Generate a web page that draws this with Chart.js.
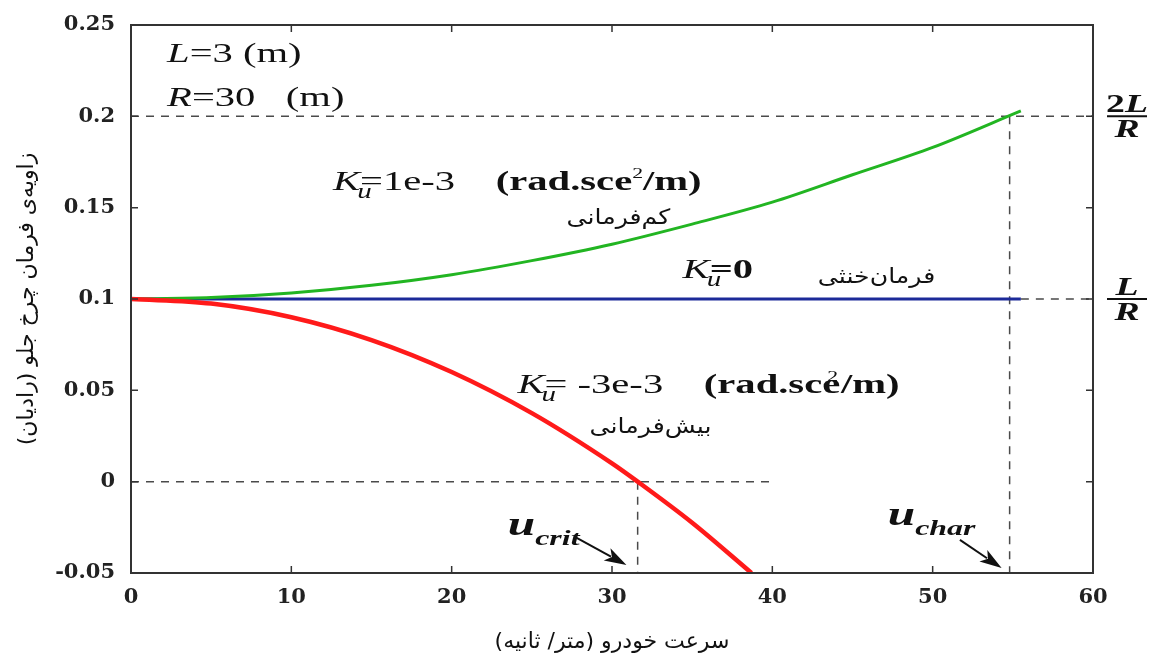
<!DOCTYPE html>
<html>
<head>
<meta charset="utf-8">
<script src="https://cdn.jsdelivr.net/npm/chart.js"></script>
<style>
    html, body { margin: 0; padding: 0; background: #ffffff; }
    .chart-box { width: 1155px; height: 661px; position: relative; }
</style>
</head>
<body>
<div class="chart-box"><canvas id="steerChart"></canvas></div>
<script>
// speed (m/s) and front wheel steer angle (rad)
const speedUnder = [0, 5, 10, 15, 20, 25, 30, 35, 40, 45, 50, 55.5];
const angleUnder = [0.1, 0.1008, 0.1033, 0.1075, 0.1133, 0.121, 0.13, 0.141, 0.153, 0.168, 0.183, 0.203];

const speedNeutral = [0, 55.5];
const angleNeutral = [0.1, 0.1];

const speedOver = [0, 5, 10, 15, 20, 25, 30, 31.6, 35, 38.7];
const angleOver = [0.1, 0.0975, 0.09, 0.0775, 0.06, 0.0375, 0.01, 0, -0.0225, -0.05];

// dashed helper lines
const levelValues = [0.2, 0.1, 0];
const levelSpans = [[0, 60], [55.5, 60], [0, 40]];
const uCrit = 31.6;
const uChar = 54.8;
const uCritSpan = [0, -0.05];
const uCharSpan = [0.2, -0.05];

const xTicks = [0, 10, 20, 30, 40, 50, 60];
const yTicks = [-0.05, 0, 0.05, 0.1, 0.15, 0.2, 0.25];

const pts = (xs, ys) => xs.map((x, i) => ({ x: x, y: ys[i] }));

const dashStyle = {
    borderColor: '#4a4a4a',
    borderWidth: 1.5,
    borderDash: [8, 7],
    pointRadius: 0,
    showLine: true,
    fill: false
};

const datasets = [
    { data: pts(speedOver, angleOver), borderColor: '#ff1a1a', borderWidth: 4.5, pointRadius: 0, showLine: true, cubicInterpolationMode: 'monotone' },
    { data: pts(speedUnder, angleUnder), borderColor: '#22b522', borderWidth: 3, pointRadius: 0, showLine: true, cubicInterpolationMode: 'monotone' },
    { data: pts(speedNeutral, angleNeutral), borderColor: '#1c2a99', borderWidth: 3, pointRadius: 0, showLine: true }
];
levelValues.forEach((v, i) => {
    datasets.push(Object.assign({ data: pts(levelSpans[i], [v, v]) }, dashStyle));
});
datasets.push(Object.assign({ data: pts([uCrit, uCrit], uCritSpan) }, dashStyle));
datasets.push(Object.assign({ data: pts([uChar, uChar], uCharSpan) }, dashStyle));

const SX = 1.45; // the source figure is stretched sideways
const serif = 'Liberation Serif';
const persian = 'DejaVu Sans';

function drawRuns(ctx, x0, y0, runs) {
    ctx.save();
    ctx.translate(x0, y0);
    ctx.scale(SX, 1);
    ctx.textBaseline = 'alphabetic';
    ctx.textAlign = 'left';
    ctx.fillStyle = '#111';
    let cx = 0;
    runs.forEach(r => {
        ctx.font = r.f;
        cx += (r.dx || 0);
        ctx.fillText(r.t, cx, r.dy || 0);
        cx += ctx.measureText(r.t).width;
    });
    ctx.restore();
}

function drawPersian(ctx, text, x, y, size) {
    ctx.save();
    ctx.translate(x, y);
    ctx.scale(1.2, 1);
    ctx.font = size + 'px "' + persian + '"';
    ctx.direction = 'rtl';
    ctx.textAlign = 'center';
    ctx.textBaseline = 'middle';
    ctx.fillStyle = '#111';
    ctx.fillText(text, 0, 0);
    ctx.restore();
}

function drawArrow(ctx, x1, y1, x2, y2) {
    const ang = Math.atan2(y2 - y1, x2 - x1);
    const head = 22, half = 7;
    ctx.save();
    ctx.strokeStyle = '#111';
    ctx.fillStyle = '#111';
    ctx.lineWidth = 2;
    ctx.beginPath();
    ctx.moveTo(x1, y1);
    ctx.lineTo(x2 - Math.cos(ang) * head * 0.8, y2 - Math.sin(ang) * head * 0.8);
    ctx.stroke();
    ctx.translate(x2, y2);
    ctx.rotate(ang);
    ctx.beginPath();
    ctx.moveTo(0, 0);
    ctx.lineTo(-head, -half);
    ctx.lineTo(-head * 0.75, 0);
    ctx.lineTo(-head, half);
    ctx.closePath();
    ctx.fill();
    ctx.restore();
}

function drawFraction(ctx, cx, cy, top) {
    ctx.save();
    ctx.fillStyle = '#111';
    ctx.strokeStyle = '#111';
    ctx.textBaseline = 'alphabetic';
    // numerator
    ctx.save();
    ctx.translate(cx, cy - 4);
    ctx.scale(SX, 1);
    ctx.font = 'bold 26px "' + serif + '"';
    const w1 = ctx.measureText(top[0]).width;
    ctx.font = 'bold italic 26px "' + serif + '"';
    const w2 = ctx.measureText(top[1]).width;
    let sx = -(w1 + w2) / 2;
    ctx.font = 'bold 26px "' + serif + '"';
    ctx.fillText(top[0], sx, 0);
    ctx.font = 'bold italic 26px "' + serif + '"';
    ctx.fillText(top[1], sx + w1, 0);
    // denominator
    const wr = ctx.measureText('R').width;
    ctx.fillText('R', -wr / 2, 25);
    ctx.restore();
    ctx.lineWidth = 2;
    ctx.beginPath();
    ctx.moveTo(cx - 20, cy);
    ctx.lineTo(cx + 20, cy);
    ctx.stroke();
    ctx.restore();
}

const figureExtras = {
    id: 'figureExtras',
    afterDatasetsDraw(chart) {
        const { ctx, chartArea: a, scales: { x, y } } = chart;
        const px = v => x.getPixelForValue(v);
        const py = v => y.getPixelForValue(v);

        // frame with inward ticks
        ctx.save();
        ctx.strokeStyle = '#333';
        ctx.lineWidth = 2;
        ctx.strokeRect(a.left, a.top, a.right - a.left, a.bottom - a.top);
        ctx.lineWidth = 1.5;
        ctx.beginPath();
        xTicks.slice(1, -1).forEach(v => {
            ctx.moveTo(px(v), a.bottom); ctx.lineTo(px(v), a.bottom - 7);
            ctx.moveTo(px(v), a.top); ctx.lineTo(px(v), a.top + 7);
        });
        yTicks.slice(1, -1).forEach(v => {
            ctx.moveTo(a.left, py(v)); ctx.lineTo(a.left + 7, py(v));
            ctx.moveTo(a.right, py(v)); ctx.lineTo(a.right - 7, py(v));
        });
        ctx.stroke();
        ctx.restore();

        const big = '28px "' + serif + '"';
        const bold = 'bold 28px "' + serif + '"';
        const it = 'italic 28px "' + serif + '"';
        const sub = 'italic 20px "' + serif + '"';
        const sup = '15px "' + serif + '"';

        drawRuns(ctx, px(2.25), py(0.2297), [{ t: 'L', f: it }, { t: '=3 (m)', f: big }]);
        drawRuns(ctx, px(2.25), py(0.2057), [{ t: 'R', f: it }, { t: '=30   (m)', f: big }]);

        drawRuns(ctx, px(12.6), py(0.1597), [
            { t: 'K', f: it }, { t: 'u', f: sub, dy: 8, dx: -2 }, { t: '=1e-3', f: big, dx: -8 },
            { t: '(rad.sce', f: bold, dx: 28 }, { t: '2', f: sup, dy: -12 }, { t: '/m)', f: bold }
        ]);
        drawRuns(ctx, px(34.4), py(0.1115), [
            { t: 'K', f: it }, { t: 'u', f: sub, dy: 8, dx: -2 }, { t: '=0', f: bold, dx: -8 }
        ]);
        drawRuns(ctx, px(24.1), py(0.0485), [
            { t: 'K', f: it }, { t: 'u', f: sub, dy: 8, dx: -2 }, { t: '= -3e-3', f: big, dx: -8 },
            { t: '(rad.sce', f: bold, dx: 28 }, { t: '2', f: sup, dy: -12, dx: -9 }, { t: '/m)', f: bold, dx: 2 }
        ]);

        drawPersian(ctx, 'کم‌فرمانی', px(30.4), py(0.1443), 21);
        drawPersian(ctx, 'فرمان‌خنثی', px(46.5), py(0.112), 21);
        drawPersian(ctx, 'بیش‌فرمانی', px(32.4), py(0.0299), 21);

        // characteristic and critical speed markers
        const ub = 'bold italic 34px "' + serif + '"';
        const us = 'bold italic 22px "' + serif + '"';
        drawRuns(ctx, px(23.5), py(-0.0292), [{ t: 'u', f: ub }, { t: 'crit', f: us, dy: 10 }]);
        drawArrow(ctx, px(27.8), py(-0.0308), px(30.9), py(-0.0456));
        drawRuns(ctx, px(47.2), py(-0.0237), [{ t: 'u', f: ub }, { t: 'char', f: us, dy: 10 }]);
        drawArrow(ctx, px(51.7), py(-0.0319), px(54.3), py(-0.0473));

        drawFraction(ctx, a.right + 34, py(0.2), ['2', 'L']);
        drawFraction(ctx, a.right + 34, py(0.1), ['', 'L']);
    }
};

const tickFont = { family: 'DejaVu Serif', size: 21, weight: 'bold' };

new Chart(document.getElementById('steerChart').getContext('2d'), {
    type: 'scatter',
    data: { datasets: datasets },
    options: {
        responsive: true,
        maintainAspectRatio: false,
        animation: false,
        layout: { padding: { top: 25, right: 62, bottom: 0, left: 0 } },
        plugins: {
            legend: { display: false },
            tooltip: { enabled: false }
        },
        scales: {
            x: {
                type: 'linear',
                min: 0,
                max: 60,
                afterBuildTicks: scale => { scale.ticks = xTicks.map(v => ({ value: v })); },
                afterFit: scale => { scale.height = 88; },
                grid: { display: false },
                border: { display: false },
                ticks: {
                    color: '#222',
                    font: tickFont,
                    padding: 4,
                    maxRotation: 0,
                    callback: v => String(v)
                },
                title: {
                    display: true,
                    text: 'سرعت خودرو (متر/ ثانیه)',
                    color: '#111',
                    font: { family: persian, size: 22 },
                    padding: { top: 0, bottom: 6 }
                }
            },
            y: {
                type: 'linear',
                min: -0.05,
                max: 0.25,
                afterBuildTicks: scale => { scale.ticks = yTicks.map(v => ({ value: v })); },
                afterFit: scale => { scale.width = 131; },
                grid: { display: false },
                border: { display: false },
                ticks: {
                    color: '#222',
                    font: tickFont,
                    padding: 8,
                    callback: v => String(v)
                },
                title: {
                    display: true,
                    text: 'زاویه‌ی فرمان چرخ جلو (رادیان)',
                    color: '#111',
                    font: { family: persian, size: 22 },
                    padding: { top: 14, bottom: 0 }
                }
            }
        }
    },
    plugins: [figureExtras]
});
</script>
</body>
</html>
